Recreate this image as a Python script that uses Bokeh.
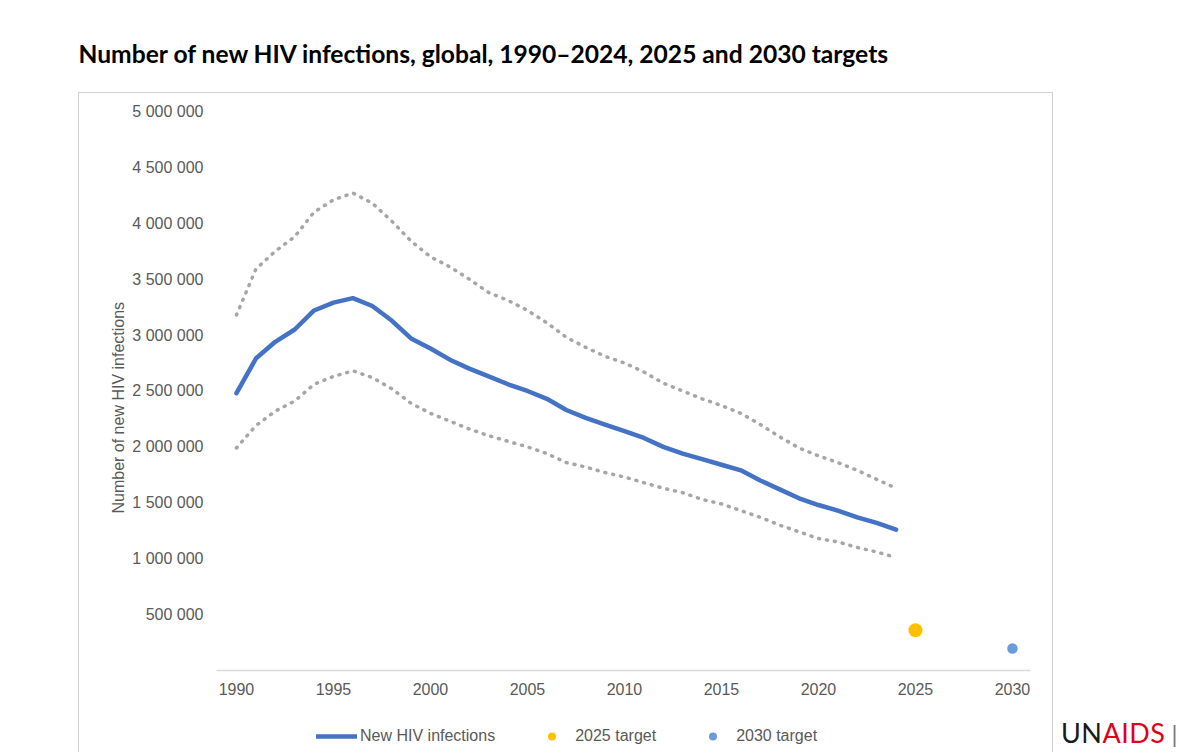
from bokeh.plotting import figure
from bokeh.models import Label, Legend, LegendItem, FixedTicker, Range1d, Div
from bokeh.layouts import row, column
from bokeh.embed import file_html
from bokeh.resources import INLINE

# ---------------- data ----------------
years = list(range(1990, 2025))
new_infections = [2480000, 2790000, 2940000, 3050000, 3220000, 3290000, 3330000, 3260000, 3130000, 2970000,
                  2880000, 2780000, 2700000, 2630000, 2560000, 2500000, 2430000, 2330000, 2260000, 2200000,
                  2140000, 2080000, 2000000, 1940000, 1890000, 1840000, 1790000, 1700000, 1620000, 1540000,
                  1480000, 1430000, 1370000, 1320000, 1260000]
upper_bound = [3180000, 3590000, 3750000, 3880000, 4100000, 4210000, 4270000, 4180000, 4020000, 3840000,
               3700000, 3610000, 3500000, 3380000, 3310000, 3220000, 3110000, 2980000, 2890000, 2810000,
               2750000, 2670000, 2570000, 2500000, 2430000, 2370000, 2300000, 2200000, 2090000, 1990000,
               1920000, 1860000, 1790000, 1710000, 1630000]
lower_bound = [1990000, 2190000, 2320000, 2410000, 2560000, 2630000, 2680000, 2620000, 2520000, 2390000,
               2300000, 2230000, 2160000, 2100000, 2050000, 2000000, 1940000, 1860000, 1820000, 1770000,
               1730000, 1680000, 1630000, 1590000, 1530000, 1490000, 1430000, 1370000, 1300000, 1240000,
               1180000, 1150000, 1100000, 1060000, 1010000]
target_2025_year = [2025]
target_2025_value = [360000]
target_2030_year = [2030]
target_2030_value = [197000]

x_ticks = [1990, 1995, 2000, 2005, 2010, 2015, 2020, 2025, 2030]
y_ticks = [500000, 1000000, 1500000, 2000000, 2500000, 3000000, 3500000, 4000000, 4500000, 5000000]
y_tick_labels = ["500 000", "1 000 000", "1 500 000", "2 000 000", "2 500 000",
                 "3 000 000", "3 500 000", "4 000 000", "4 500 000", "5 000 000"]
legend_labels = ["New HIV infections", "2025 target", "2030 target"]

title_text = "Number of new HIV infections, global, 1990\u20132024, 2025 and 2030 targets"
y_title = "Number of new HIV infections"

# ---------------- layout constants (page pixels) ----------------
W, H = 1200, 752
BOX_L, BOX_T, BOX_R = 78, 92, 1053       # bordered chart box
FL, FR, FT, FB = 216, 1030, 100, 670     # plot frame
LEG_H = 42                               # legend strip height (bottom of page)
P_H = H - BOX_T - LEG_H                  # main chart height

CHART_FONT = "Liberation Sans"
FS = "16px"
GREY_TXT = "#595959"
BOX_LINE = "#d0d0d0"
BLUE, YELLOW, LIGHT_BLUE, GREY = "#4472c4", "#ffc000", "#6a9bdb", "#a6a6a6"
NAN = float("nan")


def box_css(h, top_line):
    parts = []
    if top_line:
        parts.append(f"linear-gradient({BOX_LINE},{BOX_LINE}) {BOX_L}px 0px / {BOX_R - BOX_L}px 1px no-repeat")
    parts.append(f"linear-gradient({BOX_LINE},{BOX_LINE}) {BOX_L}px 0px / 1px {h}px no-repeat")
    parts.append(f"linear-gradient({BOX_LINE},{BOX_LINE}) {BOX_R - 1}px 0px / 1px {h}px no-repeat")
    parts.append("#ffffff")
    return ", ".join(parts)


# ---------------- title strip ----------------
t = figure(width=W, height=BOX_T, output_backend="svg", toolbar_location=None,
           x_axis_location=None, y_axis_location=None, min_border=0,
           x_range=Range1d(0, W), y_range=Range1d(BOX_T, 0))
t.outline_line_color = None
t.grid.visible = False
t.background_fill_color = "white"
t.border_fill_color = "white"
t.add_layout(Label(x=78, y=53, text=title_text, text_align="left", text_baseline="alphabetic",
                   text_font="Lato", text_font_size="24.6px", text_font_style="bold", text_color="black"))

# ---------------- main chart ----------------
p = figure(width=BOX_R, height=P_H, output_backend="svg", toolbar_location=None,
           min_border_left=FL, min_border_right=BOX_R - FR,
           min_border_top=FT - BOX_T, min_border_bottom=H - LEG_H - FB,
           x_range=Range1d(1988.97, 2030.93), y_range=Range1d(0, 5098000))
p.background_fill_color = "white"
p.border_fill_color = None
p.outline_line_color = None
p.grid.visible = False
p.styles = {"background": box_css(P_H, True)}

xa = p.xaxis[0]
xa.ticker = FixedTicker(ticks=x_ticks)
xa.axis_line_color = "#d9d9d9"
xa.axis_line_width = 1.5
xa.major_tick_line_color = None
xa.minor_tick_line_color = None
xa.major_label_text_font = CHART_FONT
xa.major_label_text_font_size = FS
xa.major_label_text_color = GREY_TXT
xa.major_label_standoff = 6

ya = p.yaxis[0]
ya.ticker = FixedTicker(ticks=y_ticks)
ya.major_label_overrides = {tk: s for tk, s in zip(y_ticks, y_tick_labels)}
ya.axis_line_color = None
ya.major_tick_line_color = None
ya.minor_tick_line_color = None
ya.major_label_text_font = CHART_FONT
ya.major_label_text_font_size = FS
ya.major_label_text_color = GREY_TXT
ya.major_label_standoff = 7
ya.axis_label = y_title + "\u00a0" * 10
ya.axis_label_text_font = CHART_FONT
ya.axis_label_text_font_size = FS
ya.axis_label_text_font_style = "normal"
ya.axis_label_text_color = GREY_TXT
ya.axis_label_standoff = 2

p.line(years, upper_bound, line_color=GREY, line_width=3.5, line_dash="1 7", line_cap="round")
p.line(years, lower_bound, line_color=GREY, line_width=3.5, line_dash="1 7", line_cap="round")
p.line(years, new_infections, line_color=BLUE, line_width=4.5, line_join="round", line_cap="round")
p.scatter(target_2025_year, target_2025_value, size=14, color=YELLOW, line_color=None)
p.scatter(target_2030_year, target_2030_value, size=10.5, color=LIGHT_BLUE, line_color=None)

# ---------------- legend strip (keys styled like the series above, no visible data) ----------------
lf = figure(width=BOX_R, height=LEG_H, output_backend="svg", toolbar_location=None,
            x_axis_location=None, y_axis_location=None,
            min_border_left=FL, min_border_right=BOX_R - FR, min_border_top=0, min_border_bottom=0,
            x_range=Range1d(0, 1), y_range=Range1d(0, 1))
lf.outline_line_color = None
lf.grid.visible = False
lf.background_fill_color = None
lf.border_fill_color = None
lf.styles = {"background": box_css(LEG_H, False)}
k_line = lf.line([NAN, NAN], [NAN, NAN], line_color=BLUE, line_width=4.5, line_cap="round")
k_25 = lf.scatter([NAN], [NAN], size=10, color=YELLOW, line_color=None)
k_30 = lf.scatter([NAN], [NAN], size=9, color=LIGHT_BLUE, line_color=None)
legend = Legend(items=[LegendItem(label=legend_labels[0], renderers=[k_line]),
                       LegendItem(label=legend_labels[1], renderers=[k_25]),
                       LegendItem(label=legend_labels[2], renderers=[k_30])],
                orientation="horizontal", location=(316 - FL, 6),
                glyph_width=41, glyph_height=20, label_height=20, label_standoff=3, spacing=36,
                padding=0, margin=0, border_line_color=None, background_fill_alpha=0,
                label_text_font=CHART_FONT, label_text_font_size=FS, label_text_color=GREY_TXT)
lf.add_layout(legend)

# ---------------- logo ----------------
logo_html = ('<div style="position:absolute; left:3px; top:620px; white-space:nowrap; '
             'font-family:Lato; font-size:27px; letter-spacing:0.5px; line-height:32px;">'
             '<span style="color:#1a1a1a">UN</span><span style="color:#e2001a">AIDS</span>'
             '<span style="color:#777777; font-size:24px; margin-left:6px;">|</span></div>')
logo = Div(text=logo_html, width=W - BOX_R, height=H - BOX_T,
           styles={"overflow": "hidden", "position": "relative"})

layout = column(t, row(column(p, lf), logo))
open("out.html", "w").write(file_html(layout, INLINE))
